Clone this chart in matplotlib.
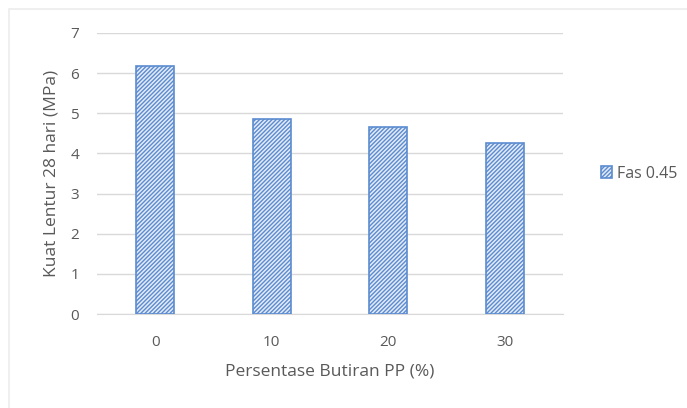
import numpy as np
import matplotlib
matplotlib.use('Agg')
import matplotlib.pyplot as plt
from matplotlib.patches import Rectangle

# data
categories = ['0', '10', '20', '30']
kuat_lentur = [6.18, 4.86, 4.66, 4.26]
series_name = 'Fas 0.45'

plt.rcParams['font.family'] = ['Open Sans', 'DejaVu Sans']
plt.rcParams['hatch.linewidth'] = 1.0
text_col = '#595959'
blue = '#5B8BD0'

fig = plt.figure(figsize=(6.87, 4.08), dpi=100)

# faint chart border (left and top)
fig.add_artist(Rectangle((9 / 687, -0.1), 1.2, 1 - 9 / 408 + 0.1,
                         transform=fig.transFigure, fill=False,
                         edgecolor='#ececec', linewidth=1.2))

ax = fig.add_axes([97 / 687, 1 - 314 / 408, (563 - 97) / 687, (314 - 33) / 408])

x = np.arange(len(categories))
ax.bar(x, kuat_lentur, width=0.33, color='#e3ebf7', edgecolor=blue,
       hatch='////////', linewidth=1.2, label=series_name, zorder=3)

ax.set_xlim(-0.5, len(categories) - 0.5)
ax.set_ylim(0, 7)
ax.set_yticks(range(0, 8))
ax.set_xticks(x)
ax.set_xticklabels(categories)
ax.grid(axis='y', color='#d9d9d9', linewidth=1.0, zorder=0)
for s in ['top', 'right', 'left']:
    ax.spines[s].set_visible(False)
ax.spines['bottom'].set_color('#d9d9d9')
ax.tick_params(length=0, labelsize=11, labelcolor=text_col)
ax.tick_params(axis='x', pad=15)
ax.tick_params(axis='y', pad=13)

ax.set_xlabel('Persentase Butiran PP (%)', fontsize=12.5, color=text_col, labelpad=10)
ax.set_ylabel('Kuat Lentur 28 hari (MPa)', fontsize=12.5, color=text_col, labelpad=8)

leg = ax.legend(loc='center left', bbox_to_anchor=(1.05, 0.5), frameon=False,
                fontsize=11.5, handlelength=0.7, handleheight=0.7, handletextpad=0.3)
for t in leg.get_texts():
    t.set_color(text_col)

fig.savefig('out.png', dpi=100)
